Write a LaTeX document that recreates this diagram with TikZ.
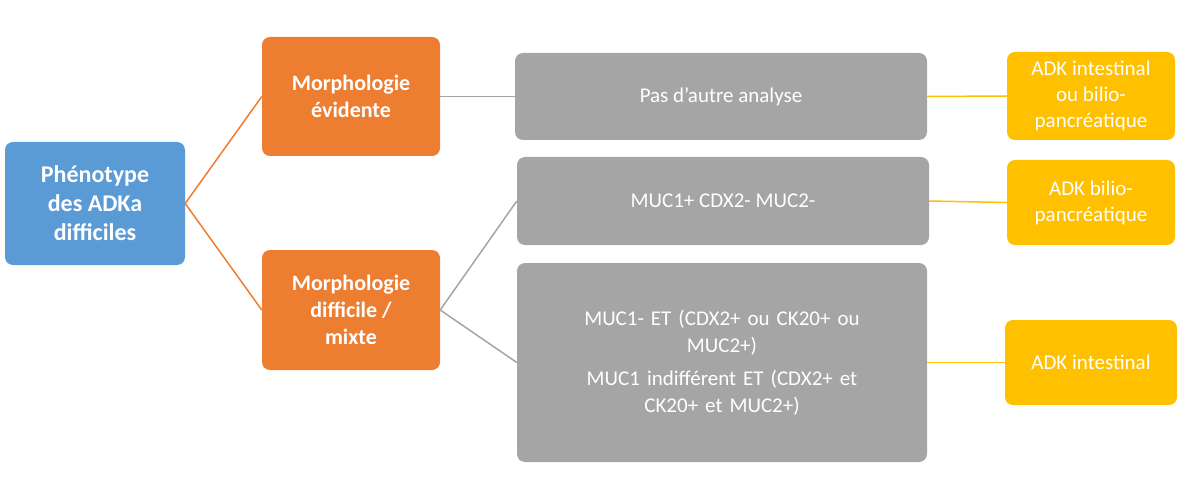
\documentclass[tikz,border=0pt]{standalone}
\usepackage{fontspec}
\setmainfont{Carlito}
\definecolor{cblue}{HTML}{5B9BD5}
\definecolor{corange}{HTML}{ED7D31}
\definecolor{cgray}{HTML}{A5A5A5}
\definecolor{cyel}{HTML}{FFC000}
\begin{document}
\begin{tikzpicture}[x=1pt,y=-1pt,
 box/.style={rounded corners=8pt,text=white,align=center,inner sep=2pt},
 bl/.style={box,fill=cblue,font=\fontsize{24}{29}\selectfont\bfseries},
 orb/.style={box,fill=corange,font=\fontsize{22}{27}\selectfont\bfseries},
 gr/.style={box,fill=cgray,font=\fontsize{21}{27}\selectfont},
 ye/.style={box,fill=cyel,font=\fontsize{21}{26}\selectfont}]
\useasboundingbox (0,0) rectangle (1200,500);
\node[bl,minimum width=180,minimum height=123] (p) at (95,203.5) {Phénotype\\des ADKa\\difficiles};
\node[orb,minimum width=178,minimum height=119] (m1) at (351,96.5) {Morphologie\\évidente};
\node[orb,minimum width=178,minimum height=120] (m2) at (351,310) {Morphologie\\difficile /\\mixte};
\node[gr,minimum width=412,minimum height=87] (g1) at (721,96.5) {Pas d'autre analyse};
\node[gr,minimum width=412,minimum height=88] (g2) at (723,201) {MUC1+ CDX2- MUC2-};
\node[gr,minimum width=410,minimum height=199,text width=370] (g3) at (722,362.5) {MUC1- ET (CDX2+ ou CK20+ ou\\MUC2+)\\[6pt]MUC1 indifférent ET (CDX2+ et\\CK20+ et MUC2+)};
\node[ye,minimum width=168,minimum height=88] (y1) at (1091,96) {ADK intestinal\\ou bilio-\\pancréatique};
\node[ye,minimum width=168,minimum height=85] (y2) at (1091,202.5) {ADK bilio-\\pancréatique};
\node[ye,minimum width=172,minimum height=85] (y3) at (1091,362.5) {ADK intestinal};
\begin{scope}[line width=1.5pt]
\draw[corange] (p.east) -- (m1.west);
\draw[corange] (p.east) -- (m2.west);
\draw[cgray] (m1.east) -- (g1.west);
\draw[cgray] (m2.east) -- (g2.west);
\draw[cgray] (m2.east) -- (g3.west);
\draw[cyel] (g1.east) -- (y1.west);
\draw[cyel] (g2.east) -- (y2.west);
\draw[cyel] (g3.east) -- (y3.west);
\end{scope}
\end{tikzpicture}
\end{document}
